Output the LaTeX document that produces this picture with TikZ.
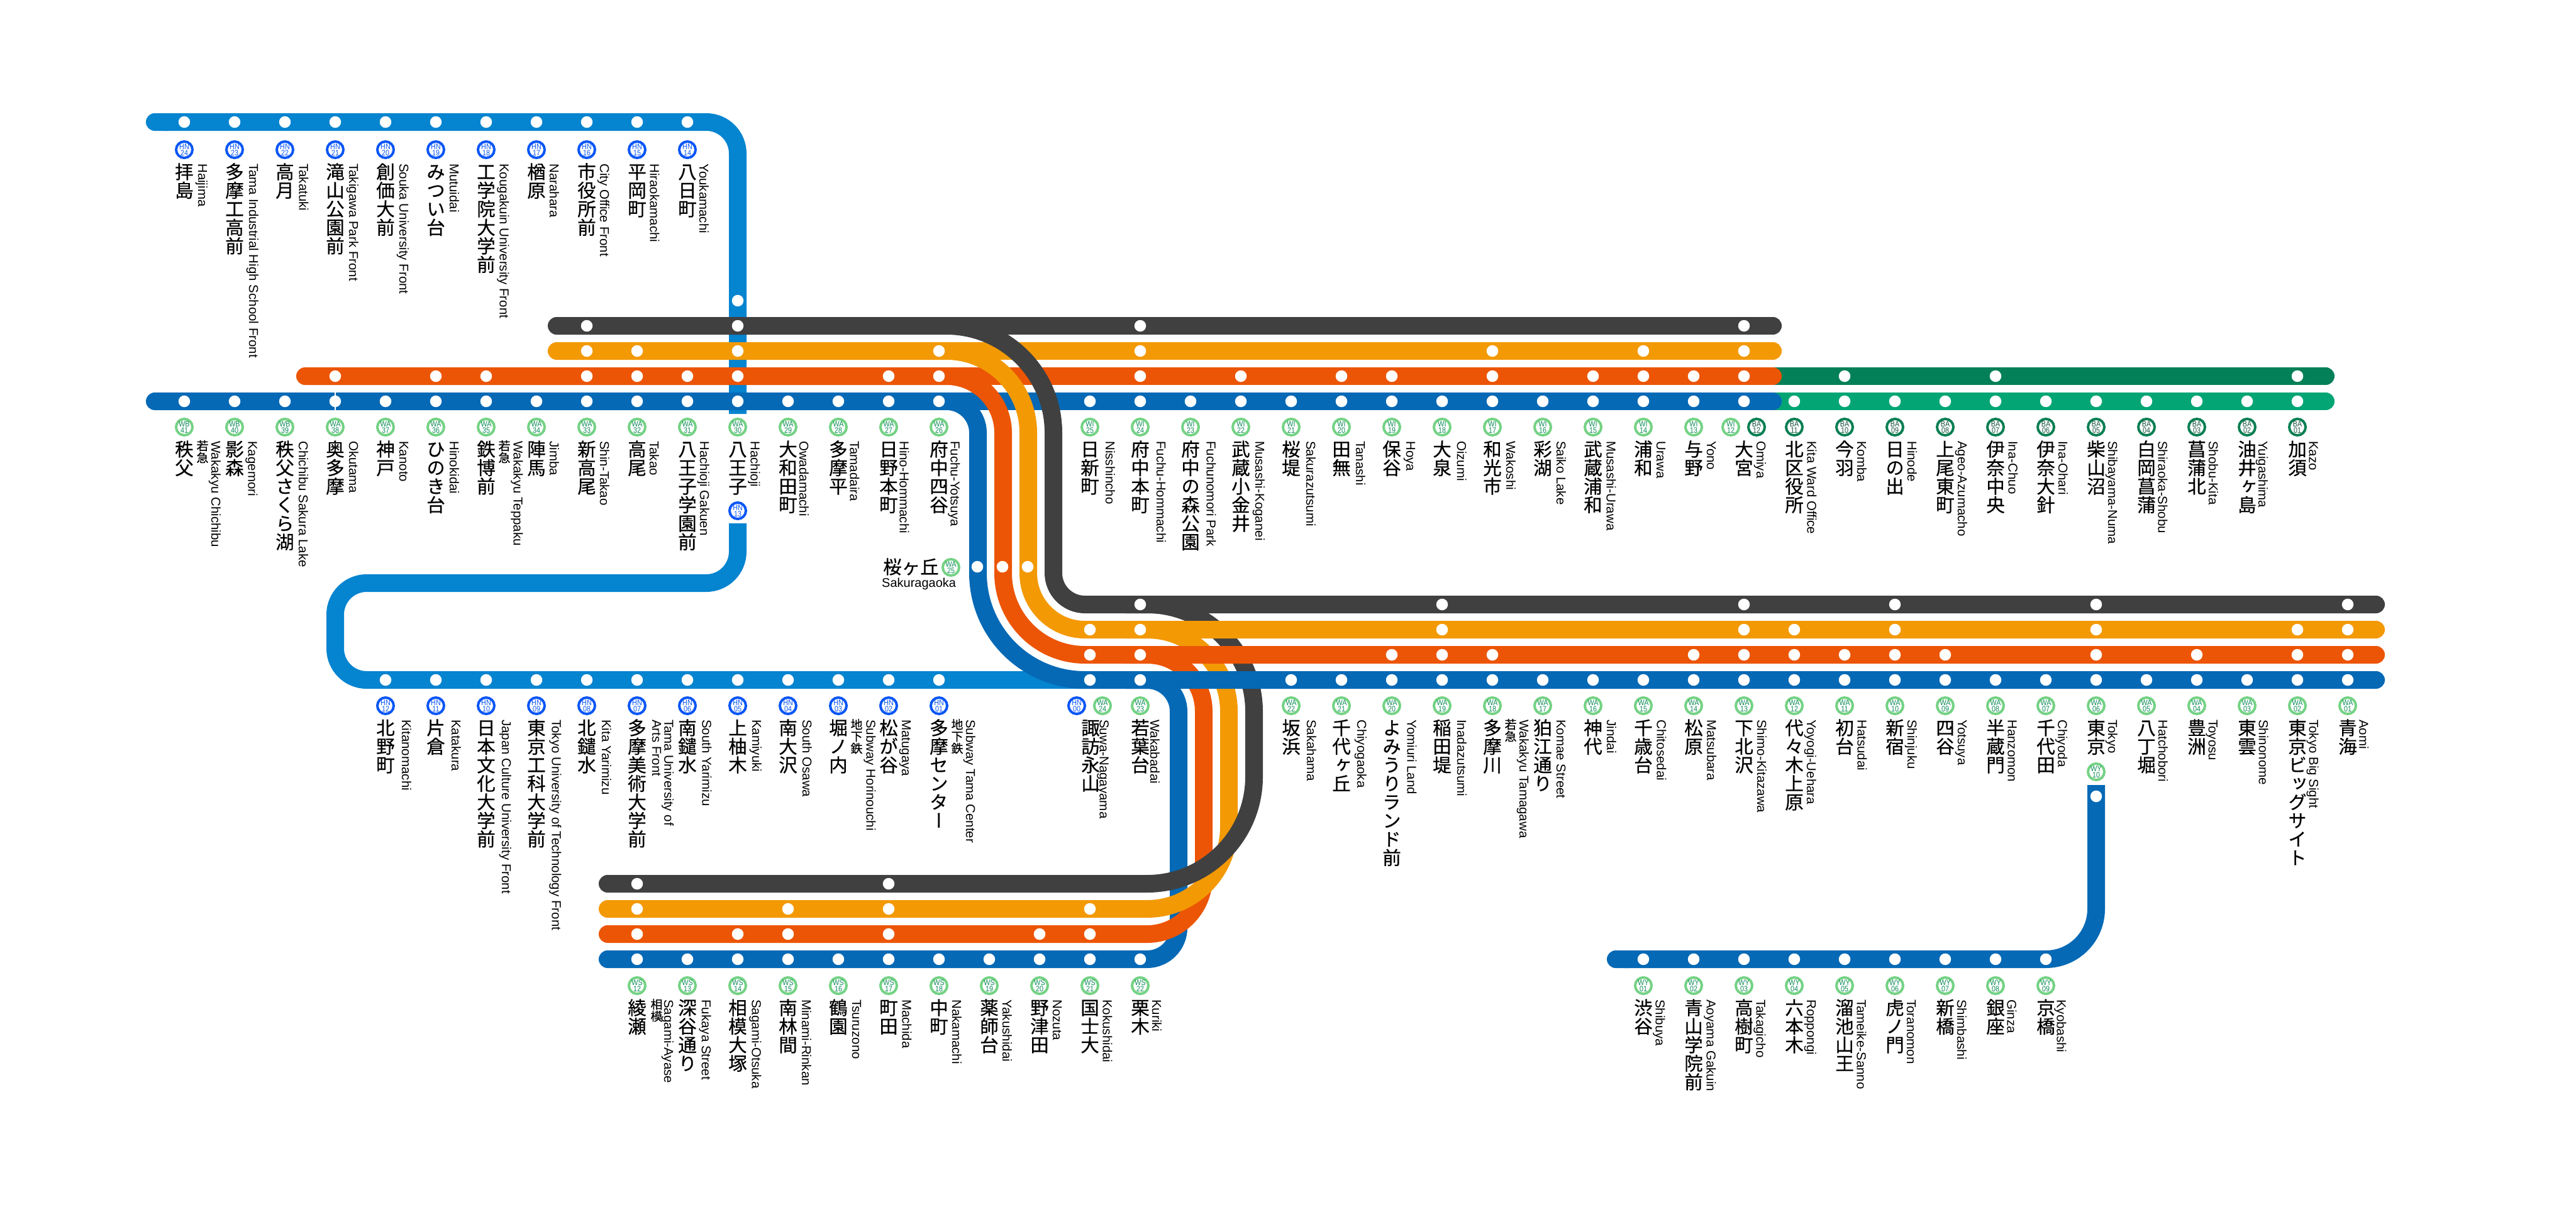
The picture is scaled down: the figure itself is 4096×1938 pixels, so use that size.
\documentclass[tikz,border=0pt]{standalone}
\usepackage{fontspec}
\setmainfont{Liberation Sans}
\newfontfamily\cjk[RawFeature=+vert,FakeBold=0.5]{Noto Sans CJK JP}
\newfontfamily\cjkh[FakeBold=0.5]{Noto Sans CJK JP}
\newfontfamily\badgefont[FakeStretch=0.86]{Liberation Sans}
\usetikzlibrary{positioning,arrows.meta,calc}

\definecolor{hnblue}{HTML}{0584D0}
\definecolor{wablue}{HTML}{0569B5}
\definecolor{wared}{HTML}{EC5505}
\definecolor{waorange}{HTML}{F39904}
\definecolor{wablack}{HTML}{404040}
\definecolor{badark}{HTML}{038058}
\definecolor{balight}{HTML}{03A574}
\definecolor{ringhn}{HTML}{0A56F5}
\definecolor{ringwa}{HTML}{74D284}
\definecolor{textwa}{HTML}{0C8A58}
\definecolor{ringba}{HTML}{0A7F53}
\definecolor{textba}{HTML}{14503A}

\tikzset{
  track/.style={line width=28pt,draw=#1},
  roundtrack/.style={track=#1,line cap=round},
  stop/.style={circle,fill=white,minimum size=18.5pt,inner sep=0pt},
  badge/.style 2 args={circle,draw=#1,text=#2,line width=4pt,minimum size=26pt,inner sep=0pt,align=center,font=\badgefont\fontsize{12.5}{10}\selectfont},
  bdgHN/.style={badge={ringhn}{ringhn}},
  bdgWA/.style={badge={ringwa}{textwa}},
  bdgWB/.style={bdgWA},
  bdgWI/.style={bdgWA},
  bdgWS/.style={bdgWA},
  bdgWY/.style={bdgWA},
  bdgBA/.style={badge={ringba}{textba}},
  jpname/.style={anchor=north,inner sep=0pt},
  enname/.style={rotate=-90,anchor=base west,inner sep=0pt,align=left,font=\fontsize{20.5}{14.6}\selectfont}
}

% one character per line, upright
\makeatletter
\newcommand{\tate}[2][29.5]{%
  \vbox{\offinterlineskip
    \edef\tatelist{\noexpand\@tfor\noexpand\tatechar:=#2\noexpand\do}%
    \cjk\fontsize{#1}{#1}\selectfont
    \tatelist{\hbox to #1pt{\vrule width 0pt height \dimexpr#1pt*88/100\relax depth \dimexpr#1pt*12/100\relax\hfil\tatechar\hfil}}}}
\makeatother

% a row of stations: badge, japanese name, english name
\newcommand{\stnrow}[2]{%
  \foreach \x/\ln/\no/\jp/\en/\off in {#2}{
    \node[bdg\ln] (b-\ln\no) at (\x,#1) {\ln\\\no};
    \node[jpname] (jp-\ln\no) at (\x,#1+20) {\tate{\jp}};
    \node[enname] (en-\ln\no) at (\x+\off,#1+22) {\en};
  }}
\newcommand{\stops}[3]{%
  \foreach \x in {#3}
    \node[stop] (#2-\x) at (\x,#1) {};}

\begin{document}
\begin{tikzpicture}[x=1pt,y=-1pt]
  \useasboundingbox (0,0) rectangle (4096,1938);

  % line ends
  \coordinate (hnW) at (232,194);
  \coordinate (hnN) at (1173,658);
  \coordinate (hnS) at (1173,832);
  \coordinate (hnE) at (1725,1081);
  \coordinate (bluW) at (246,638);
  \coordinate (redW) at (485,598);
  \coordinate (oraW) at (885,558);
  \coordinate (blkW) at (885,518);
  \coordinate (bluE) at (3778,1081);
  \coordinate (redE) at (3778,1041);
  \coordinate (oraE) at (3778,1001);
  \coordinate (blkE) at (3778,961);
  \coordinate (bluS) at (966,1525);
  \coordinate (redS) at (966,1485);
  \coordinate (oraS) at (966,1445);
  \coordinate (blkS) at (966,1405);
  \coordinate (wyW) at (2555,1525);
  \coordinate (wyN) at (3333,1248);

  % light blue line
  \draw[track=hnblue,rounded corners=50pt,{Round Cap[]}-] (hnW) -- (1173,194) -- (hnN);
  \draw[track=hnblue,rounded corners=50pt] (hnS) -- (1173,927) -- (533,927) -- (533,1081) -- (hnE);

  % the lower branch goes under the rows
  \draw[roundtrack=wablue,rounded corners=50pt] (bluS) -- (1874,1525) -- (1874,1081) -- (1790,1081);
  \draw[roundtrack=wared,rounded corners=90pt] (redS) -- (1914,1485) -- (1914,1041) -- (1790,1041);
  \draw[roundtrack=waorange,rounded corners=130pt] (oraS) -- (1954,1445) -- (1954,1001) -- (1790,1001);
  \draw[roundtrack=wablack,rounded corners=170pt] (blkS) -- (1994,1405) -- (1994,961) -- (1790,961);

  % green rows
  \draw[roundtrack=badark] (2800,598) -- (3698,598);
  \draw[roundtrack=balight] (2800,638) -- (3698,638);

  % main rows
  \draw[roundtrack=wablue] (1400,638) -- (2819,638);
  \draw[roundtrack=wablue] (bluW) [rounded corners=50pt] -- (1555,638) [rounded corners=170pt] -- (1555,1081) -- (bluE);
  \draw[roundtrack=wared] (1400,598) -- (2819,598);
  \draw[roundtrack=wared] (redW) [rounded corners=90pt] -- (1595,598) [rounded corners=130pt] -- (1595,1041) -- (redE);
  \draw[roundtrack=waorange] (1400,558) -- (2819,558);
  \draw[roundtrack=waorange] (oraW) [rounded corners=130pt] -- (1635,558) [rounded corners=90pt] -- (1635,1001) -- (oraE);
  \draw[roundtrack=wablack] (1400,518) -- (2819,518);
  \draw[roundtrack=wablack] (blkW) [rounded corners=170pt] -- (1675,518) [rounded corners=50pt] -- (1675,961) -- (blkE);

  % tokyo branch
  \draw[track=wablue,rounded corners=80pt,{Round Cap[]}-] (wyW) -- (3333,1525) -- (wyN);

  \draw[white,line width=2.5pt] (533,624) -- (533,652);

  % station dots
  \stops{194}{hnt}{293,373,...,1093}
  \node[stop] (hn-13) at (1173,478) {};
  \stops{1081}{hnb}{613,693,...,1493}
  \stops{518}{k}{933,1173,1813,2773}
  \stops{558}{o}{933,1013,1173,1493,1813,2373,2613,2773}
  \stops{598}{r}{533,693,773,933,1013,1093,1173,1413,1493,1813,1973,2133,2213,2373,2533,2613,2693,2773}
  \stops{638}{b}{293,373,...,1493,1733,1813,...,2773}
  \stops{638}{gl}{2853,2933,...,3653}
  \stops{598}{gd}{2933,3173,3653}
  \node[stop] (s-b) at (1554,901) {};
  \node[stop] (s-r) at (1594,901) {};
  \node[stop] (s-o) at (1634,901) {};
  \stops{961}{k2}{1813,2293,2773,3013,3333,3733}
  \stops{1001}{o2}{1733,1813,2293,2773,2853,3013,3333,3653,3733}
  \stops{1041}{r2}{1733,1813,2213,2293,2373,2693,2773,2853,2933,3013,3093,3333,3493,3653,3733}
  \stops{1081}{b2}{1733,1813,2053,2133,...,3733}
  \stops{1405}{k3}{1013,1413}
  \stops{1445}{o3}{1013,1253,1413,1733}
  \stops{1485}{r3}{1013,1173,1253,1413,1653,1733}
  \stops{1525}{b3}{1013,1093,...,1813}
  \stops{1525}{wy}{2613,2693,...,3253}
  \node[stop] (wy-10) at (3333,1266) {};

  % station labels
  \stnrow{238}{
    293/HN/24/拝島/Haijima/22,
    373/HN/23/多摩工高前/Tama Industrial High School Front/23,
    453/HN/22/高月/Takatuki/22.5,
    533/HN/21/滝山公園前/Takigawa Park Front/22,
    613/HN/20/創価大前/Souka University Front/22,
    693/HN/19/みつい台/Mutuidai/22,
    773/HN/18/工学院大学前/Kougakuin University Front/21.5,
    853/HN/17/楢原/Narahara/21,
    933/HN/16/市役所前/City Office Front/21,
    1013/HN/15/平岡町/Hiraokamachi/20.5,
    1093/HN/14/八日町/Youkamachi/19}
  \stnrow{679}{
    293/WB/41/秩父/Wakakyu Chichibu/43,
    373/WB/40/影森/Kagemori/21.5,
    453/WB/39/秩父さくら湖/Chichibu Sakura Lake/22,
    533/WA/38/奥多摩/Okutama/22,
    613/WA/37/神戸/Kanoto/22,
    693/WA/36/ひのき台/Hinokidai/22,
    773/WA/35/鉄博前/Wakakyu Teppaku/43.7,
    853/WA/34/陣馬/Jimba/21,
    933/WA/33/新高尾/Shin-Takao/21,
    1013/WA/32/高尾/Takao/20,
    1093/WA/31/八王子学園前/Hachioji Gakuen/20,
    1173/WA/30/八王子/Hachioji/20.6,
    1253/WA/29/大和田町/Owadamachi/18,
    1333/WA/28/多摩平/Tamadaira/18.5,
    1413/WA/27/日野本町/Hino-Hommachi/17.6,
    1493/WA/26/府中四谷/Fuchu-Yotsuya/18.6,
    1733/WI/25/日新町/Nisshincho/25,
    1813/WI/24/府中本町/Fuchu-Hommachi/26,
    1893/WI/23/府中の森公園/Fuchunomori Park/25.5,
    1973/WI/22/武蔵小金井/Musashi-Koganei/23,
    2053/WI/21/桜堤/Sakurazutsumi/24,
    2133/WI/20/田無/Tanashi/23,
    2213/WI/19/保谷/Hoya/23,
    2293/WI/18/大泉/Oizumi/23.8,
    2373/WI/17/和光市/Wakoshi/22,
    2453/WI/16/彩湖/Saiko Lake/22,
    2533/WI/15/武蔵浦和/Musashi-Urawa/21.7,
    2613/WI/14/浦和/Urawa/21,
    2693/WI/13/与野/Yono/21,
    2853/BA/11/北区役所/Kita Ward Office/20.6,
    2933/BA/10/今羽/Komba/20,
    3013/BA/09/日の出/Hinode/20,
    3093/BA/08/上尾東町/Ageo-Azumacho/20,
    3173/BA/07/伊奈中央/Ina-Chuo/20.5,
    3253/BA/06/伊奈大針/Ina-Ohari/20,
    3333/BA/05/柴山沼/Shibayama-Numa/19,
    3413/BA/04/白岡菖蒲/Shiraoka-Shobu/18.7,
    3493/BA/03/菖蒲北/Shobu-Kita/19,
    3573/BA/02/油井ヶ島/Yuigashima/18,
    3653/BA/01/加須/Kazo/18.6}
  \stnrow{1122}{
    613/HN/12/北野町/Kitanomachi/26,
    693/HN/11/片倉/Katakura/25,
    773/HN/10/日本文化大学前/Japan Culture University Front/25,
    853/HN/09/東京工科大学前/Tokyo University of Technology Front/24.5,
    933/HN/08/北鑓水/Kita Yarimizu/24,
    1013/HN/07/多摩美術大学前/{Tama University of\\Arts Front}/24,
    1093/HN/06/南鑓水/South Yarimizu/23.7,
    1173/HN/05/上柚木/Kamiyuki/23,
    1253/HN/04/南大沢/South Osawa/23,
    1333/HN/03/堀ノ内/Subway Horinouchi/44.5,
    1413/HN/02/松が谷/Matugaya/21,
    1493/HN/01/多摩センター/Subway Tama Center/43,
    1813/WA/23/若葉台/Wakabadai/16,
    2053/WA/22/坂浜/Sakahama/25,
    2133/WA/21/千代ヶ丘/Chiyogaoka/25,
    2213/WA/20/よみうりランド前/Yomiuri Land/24.6,
    2293/WA/19/稲田堤/Inadazutsumi/24,
    2373/WA/18/多摩川/Wakakyu Tamagawa/43,
    2453/WA/17/狛江通り/Komae Street/22,
    2533/WA/16/神代/Jindai/22,
    2613/WA/15/千歳台/Chitosedai/21.7,
    2693/WA/14/松原/Matsubara/21.4,
    2773/WA/13/下北沢/Shimo-Kitazawa/21,
    2853/WA/12/代々木上原/Yoyogi-Uehara/20,
    2933/WA/11/初台/Hatsudai/20.6,
    3013/WA/10/新宿/Shinjuku/20,
    3093/WA/09/四谷/Yotsuya/20,
    3173/WA/08/半蔵門/Hanzomon/19.7,
    3253/WA/07/千代田/Chiyoda/19.4,
    3333/WA/06/東京/Tokyo/19,
    3413/WA/05/八丁堀/Hatchobori/19,
    3493/WA/04/豊洲/Toyosu/18.8,
    3573/WA/03/東雲/Shinonome/18.8,
    3653/WA/02/東京ビッグサイト/Tokyo Big Sight/18.8,
    3733/WA/01/青海/Aomi/18.4}
  \stnrow{1567}{
    1013/WS/12/綾瀬/Sagami-Ayase/43,
    1093/WS/13/深谷通り/Fukaya Street/22.8,
    1173/WS/14/相模大塚/Sagami-Otsuka/22.5,
    1253/WS/15/南林間/Minami-Rinkan/22,
    1333/WS/16/鶴園/Tsuruzono/22,
    1413/WS/17/町田/Machida/21.7,
    1493/WS/18/中町/Nakamachi/21,
    1573/WS/19/薬師台/Yakushidai/21,
    1653/WS/20/野津田/Nozuta/21,
    1733/WS/21/国士大/Kokushidai/20.5,
    1813/WS/22/栗木/Kuriki/19,
    2613/WY/01/渋谷/Shibuya/19.7,
    2693/WY/02/青山学院前/Aoyama Gakuin/20.5,
    2773/WY/03/高樹町/Takagicho/19.6,
    2853/WY/04/六本木/Roppongi/20,
    2933/WY/05/溜池山王/Tameike-Sanno/19.5,
    3013/WY/06/虎ノ門/Toranomon/19,
    3093/WY/07/新橋/Shimbashi/19,
    3173/WY/08/銀座/Ginza/18.5,
    3253/WY/09/京橋/Kyobashi/17.7}

  % stations with two badges or set apart
  \node[bdgHN] (b-HN13) at (1173,812) {HN\\13};
  \node[bdgWY] (b-WY10) at (3333,1227) {WY\\10};
  \node[bdgWI] (b-WI12) at (2752,679) {WI\\12};
  \node[bdgBA] (b-BA12) at (2793,679) {BA\\12};
  \node[jpname] (jp-omiya) at (2773,699) {\tate{大宮}};
  \node[enname] (en-omiya) at (2793,701) {Omiya};
  \node[bdgHN] (b-HN00) at (1712,1122) {HN\\00};
  \node[bdgWA] (b-WA24) at (1753,1122) {WA\\24};
  \node[jpname] (jp-suwa) at (1734,1142) {\tate{諏訪永山}};
  \node[enname] (en-suwa) at (1748.5,1144) {Suwa-Nagayama};
  \node[bdgWA] (b-WA25) at (1512,902) {WA\\25};
  \node[anchor=east,inner sep=0pt,font=\cjkh\fontsize{29.5}{29.5}\selectfont] (jp-sakura) at (1493,901) {桜ヶ丘};
  \node[anchor=base west,inner sep=0pt,font=\fontsize{20}{20}\selectfont] (en-sakura) at (1402,933) {Sakuragaoka};

  % small operator marks
  \foreach \x/\y/\jp/\nm in {322/699/若急/wk1,802/699/若急/wk2,2402/1142/若急/wk3,1362/1142/地下鉄/sw1,1522/1142/地下鉄/sw2,1044/1587/相模/sg1}
    \node[jpname] (\nm) at (\x,\y) {\tate[19]{\jp}};
\end{tikzpicture}
\end{document}
